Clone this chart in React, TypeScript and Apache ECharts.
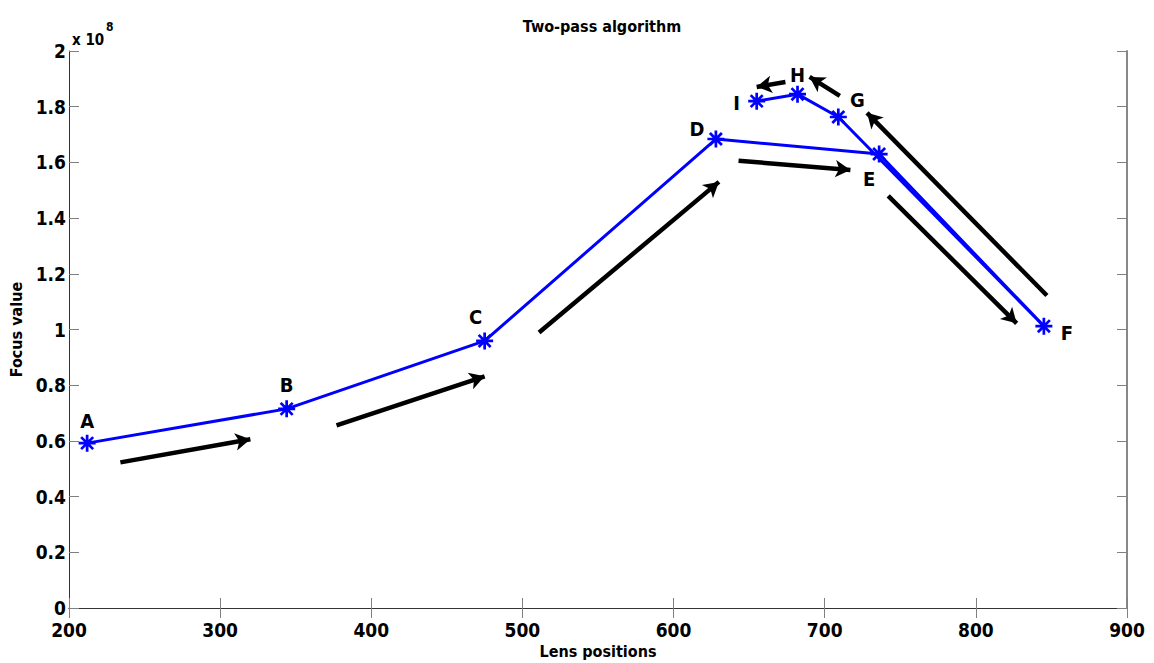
import React, { useEffect, useRef } from "react";
import * as echarts from "echarts";

// Lens positions visited by the two-pass search, in visiting order
const pointNames = ["A", "B", "C", "D", "E", "F", "G", "H", "I"];
const lensPositions = [212, 344, 475, 628, 736, 845, 709, 682, 655];
// Focus values in units of 10^8
const focusValues = [0.592, 0.715, 0.959, 1.684, 1.63, 1.012, 1.763, 1.845, 1.82];

// Direction arrows, start and end points in data units
const arrowStarts = [
  [234, 0.523],
  [377, 0.656],
  [511, 0.989],
  [643, 1.606],
  [742, 1.48],
  [847, 1.122],
  [710, 1.839],
  [674, 1.889],
];
const arrowEnds = [
  [320, 0.606],
  [475, 0.832],
  [630, 1.53],
  [717, 1.573],
  [827, 1.022],
  [728, 1.778],
  [690, 1.907],
  [655, 1.871],
];

const xTicks = { min: 200, max: 900, step: 100 };
const yTicks = { min: 0, max: 2, step: 0.2 };

// Pixel offsets of the point letters from their markers
const letterOffsets = [
  [0, -22],
  [0, -24],
  [-9, -24],
  [-19, -10],
  [-10, 25],
  [23, 7],
  [19, -17],
  [0, -19],
  [-20, 2],
];

const FONT = "'DejaVu Sans Condensed', 'Liberation Sans Narrow', sans-serif";

const asterisk =
  "path://M-1.6,-10L1.6,-10L1.6,10L-1.6,10Z" +
  "M-10,-1.6L10,-1.6L10,1.6L-10,1.6Z" +
  "M-5.94,-8.2L8.2,5.94L5.94,8.2L-8.2,-5.94Z" +
  "M-8.2,5.94L5.94,-8.2L8.2,-5.94L-5.94,8.2Z";

export default function App() {
  const ref = useRef<HTMLDivElement>(null);

  useEffect(() => {
    if (!ref.current) return;
    const chart = echarts.init(ref.current, null, { renderer: "svg" });

    const axisLine = { show: true, lineStyle: { color: "#333", width: 1 } };
    const axisTick = {
      show: true,
      inside: true,
      length: 10,
      lineStyle: { color: "#808080", width: 1 },
    };
    const tickLabel = {
      fontFamily: FONT,
      fontWeight: "bold" as const,
      fontSize: 19,
      color: "#000",
    };
    const nameStyle = {
      fontFamily: FONT,
      fontWeight: "bold" as const,
      fontSize: 16,
      color: "#000",
    };

    const seriesData = lensPositions.map((x, i) => ({
      value: [x, focusValues[i]],
      name: pointNames[i],
      label: {
        show: true,
        position: "inside" as const,
        offset: letterOffsets[i],
        formatter: pointNames[i],
        fontFamily: FONT,
        fontWeight: "bold" as const,
        fontSize: 20,
        color: "#000",
      },
    }));

    const arrowData = arrowStarts.map((s, i) => [
      { coord: s },
      { coord: arrowEnds[i] },
    ]);

    chart.setOption({
      animation: false,
      backgroundColor: "#fff",
      title: {
        text: "Two-pass algorithm",
        left: 597,
        textAlign: "center",
        top: 13,
        textStyle: {
          fontFamily: FONT,
          fontWeight: "bold",
          fontSize: 16,
          color: "#000",
        },
      },
      grid: {
        left: 69,
        right: 27,
        top: 51,
        bottom: 55,
        containLabel: false,
        outerBoundsMode: "none",
      },
      xAxis: [
        {
          type: "value",
          min: xTicks.min,
          max: xTicks.max,
          interval: xTicks.step,
          position: "bottom",
          name: "Lens positions",
          nameLocation: "middle",
          nameGap: 34,
          nameTextStyle: nameStyle,
          axisLine,
          axisTick,
          axisLabel: { ...tickLabel, margin: 12 },
          splitLine: { show: false },
        },
        {
          type: "value",
          min: xTicks.min,
          max: xTicks.max,
          interval: xTicks.step,
          position: "top",
          axisLine,
          axisTick,
          axisLabel: { show: false },
          splitLine: { show: false },
        },
      ],
      yAxis: [
        {
          type: "value",
          min: yTicks.min,
          max: yTicks.max,
          interval: yTicks.step,
          position: "left",
          name: "Focus value",
          nameLocation: "middle",
          nameGap: 43,
          nameTextStyle: nameStyle,
          axisLine,
          axisTick,
          axisLabel: { ...tickLabel, margin: 3 },
          splitLine: { show: false },
        },
        {
          type: "value",
          min: yTicks.min,
          max: yTicks.max,
          interval: yTicks.step,
          position: "right",
          axisLine: { show: true, lineStyle: { color: "#888", width: 2 } },
          axisTick,
          axisLabel: { show: false },
          splitLine: { show: false },
        },
      ],
      graphic: [
        {
          type: "text",
          left: 72,
          top: 32,
          style: {
            text: "x 10",
            fontFamily: FONT,
            fontWeight: "bold",
            fontSize: 15,
            fill: "#000",
          },
        },
        {
          type: "text",
          left: 106,
          top: 21,
          style: {
            text: "8",
            fontFamily: FONT,
            fontWeight: "bold",
            fontSize: 12,
            fill: "#000",
          },
        },
      ],
      series: [
        {
          type: "line",
          xAxisIndex: 0,
          yAxisIndex: 0,
          data: seriesData,
          lineStyle: { color: "#0000ff", width: 3 },
          itemStyle: { color: "#0000ff" },
          symbol: asterisk,
          symbolSize: 17,
          showAllSymbol: true,
          z: 3,
          markLine: {
            silent: true,
            symbol: ["none", "arrow"],
            symbolSize: [13, 15],
            label: { show: false },
            lineStyle: { color: "#000", width: 4.5, type: "solid" },
            emphasis: { disabled: true },
            data: arrowData,
          },
        },
      ],
    });

    return () => chart.dispose();
  }, []);

  return (
    <div
      ref={ref}
      style={{ position: "fixed", left: 0, top: 0, width: 1154, height: 663 }}
    />
  );
}
